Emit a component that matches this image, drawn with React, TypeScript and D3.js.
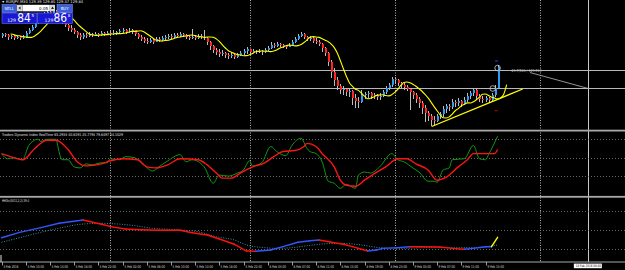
import React from "react";
import * as d3 from "d3";

// ---------------- DATA ----------------
const symbolText = "EURJPY,M30  129.39 129.85 129.37 129.84";
const tdiLabel = "Traders Dynamic Index RealTime 65.2933 40.6191 25.7794 79.6497 54.1029";
const hhLabel = "HHDiv(5011,2,2) 29.4";
const objectText = "29.7/503 / 129.514";
const vLineLabel = "10 Feb 2016 08:00";

const timeLabels = [
  "4 Feb 2016", "4 Feb 10:00", "4 Feb 14:00", "4 Feb 18:00", "4 Feb 22:00",
  "5 Feb 02:00", "5 Feb 06:00", "5 Feb 10:00", "5 Feb 14:00", "5 Feb 18:00",
  "5 Feb 22:00", "8 Feb 03:00", "8 Feb 07:00", "8 Feb 11:00", "8 Feb 15:00",
  "8 Feb 19:00", "8 Feb 23:00", "9 Feb 03:00", "9 Feb 07:00", "9 Feb 11:00",
  "9 Feb 15:00",
];
const labelStep = 8;

const firstOpen = 130.43;
const closes = [
  130.47, 130.45, 130.41, 130.43, 130.39, 130.41, 130.39, 130.41, 130.49, 130.55,
  130.61, 130.69, 130.75, 130.81, 130.85, 130.91, 130.89, 130.93, 130.87, 130.81,
  130.71, 130.65, 130.59, 130.55, 130.51, 130.45, 130.41, 130.45, 130.43, 130.47,
  130.45, 130.47, 130.45, 130.49, 130.47, 130.49, 130.47, 130.49, 130.51, 130.53,
  130.55, 130.51, 130.53, 130.55, 130.47, 130.41, 130.37, 130.33, 130.31, 130.35,
  130.31, 130.37, 130.35, 130.39, 130.41, 130.43, 130.41, 130.45, 130.43, 130.47,
  130.45, 130.41, 130.39, 130.41, 130.39, 130.43, 130.41, 130.39, 130.31, 130.23,
  130.15, 130.11, 130.07, 130.09, 130.05, 130.03, 130.05, 130.01, 130.05, 130.09,
  130.13, 130.17, 130.11, 130.13, 130.11, 130.13, 130.11, 130.15, 130.19, 130.25,
  130.23, 130.27, 130.25, 130.23, 130.21, 130.25, 130.31, 130.37, 130.43, 130.47,
  130.41, 130.37, 130.39, 130.33, 130.31, 130.27, 130.19, 130.09, 129.91, 129.71,
  129.55, 129.43, 129.35, 129.37, 129.31, 129.33, 129.19, 129.13, 129.11, 129.25,
  129.27, 129.29, 129.23, 129.25, 129.21, 129.23, 129.31, 129.39, 129.45, 129.57,
  129.55, 129.49, 129.45, 129.41, 129.37, 129.31, 129.25, 129.17, 129.09, 128.99,
  128.89, 128.83, 128.75, 128.73, 128.83, 128.87, 128.97, 129.03, 129.01, 129.11,
  129.09, 129.13, 129.07, 129.15, 129.23, 129.29, 129.35, 129.23, 129.17, 129.15,
  129.19, 129.15, 129.25, 129.39, 129.81,
];
const highs = [
  130.49, 130.49, 130.47, 130.45, 130.45, 130.43, 130.43, 130.45, 130.53, 130.59,
  130.65, 130.73, 130.79, 130.85, 130.91, 130.95, 130.95, 130.97, 130.95, 130.89,
  130.83, 130.73, 130.67, 130.65, 130.59, 130.53, 130.49, 130.49, 130.49, 130.51,
  130.49, 130.51, 130.49, 130.53, 130.51, 130.53, 130.53, 130.55, 130.53, 130.57,
  130.59, 130.57, 130.59, 130.57, 130.55, 130.49, 130.45, 130.41, 130.39, 130.39,
  130.37, 130.41, 130.41, 130.43, 130.45, 130.47, 130.47, 130.49, 130.49, 130.51,
  130.49, 130.47, 130.45, 130.57, 130.45, 130.47, 130.47, 130.55, 130.41, 130.33,
  130.25, 130.19, 130.17, 130.15, 130.11, 130.09, 130.11, 130.07, 130.09, 130.13,
  130.17, 130.21, 130.17, 130.17, 130.15, 130.17, 130.15, 130.19, 130.23, 130.31,
  130.29, 130.31, 130.29, 130.27, 130.25, 130.29, 130.35, 130.41, 130.47, 130.51,
  130.49, 130.43, 130.43, 130.41, 130.39, 130.35, 130.29, 130.21, 130.11, 129.95,
  129.79, 129.61, 129.47, 129.43, 129.39, 129.39, 129.35, 129.27, 129.21, 129.35,
  129.31, 129.33, 129.31, 129.29, 129.27, 129.29, 129.35, 129.43, 129.49, 129.61,
  129.61, 129.57, 129.51, 129.49, 129.45, 129.39, 129.33, 129.29, 129.21, 129.13,
  129.05, 128.93, 128.87, 128.83, 128.87, 128.91, 129.03, 129.07, 129.07, 129.17,
  129.15, 129.19, 129.15, 129.21, 129.29, 129.33, 129.39, 129.37, 129.27, 129.23,
  129.23, 129.21, 129.29, 129.45, 129.85,
];
const lows = [
  130.39, 130.41, 130.35, 130.37, 130.35, 130.37, 130.35, 130.37, 130.39, 130.47,
  130.53, 130.59, 130.67, 130.73, 130.79, 130.83, 130.83, 130.87, 130.83, 130.77,
  130.67, 130.61, 130.53, 130.51, 130.47, 130.39, 130.35, 130.37, 130.39, 130.41,
  130.41, 130.43, 130.41, 130.43, 130.43, 130.45, 130.43, 130.45, 130.45, 130.47,
  130.49, 130.47, 130.49, 130.47, 130.43, 130.37, 130.33, 130.29, 130.27, 130.29,
  130.27, 130.31, 130.31, 130.33, 130.35, 130.37, 130.37, 130.39, 130.39, 130.41,
  130.41, 130.37, 130.35, 130.37, 130.35, 130.37, 130.37, 130.35, 130.25, 130.15,
  130.09, 130.05, 130.01, 130.03, 129.99, 129.97, 129.99, 129.97, 129.99, 130.03,
  130.05, 130.07, 130.07, 130.09, 130.07, 130.09, 130.05, 130.09, 130.13, 130.17,
  130.19, 130.21, 130.21, 130.19, 130.17, 130.21, 130.23, 130.29, 130.35, 130.41,
  130.37, 130.33, 130.33, 130.29, 130.27, 130.23, 130.11, 130.03, 129.83, 129.59,
  129.43, 129.35, 129.27, 129.25, 129.23, 129.21, 129.05, 128.99, 128.99, 129.09,
  129.17, 129.19, 129.17, 129.17, 129.15, 129.15, 129.21, 129.27, 129.35, 129.41,
  129.47, 129.43, 129.39, 129.35, 129.33, 128.95, 129.17, 129.09, 128.99, 128.87,
  128.71, 128.73, 128.63, 128.65, 128.71, 128.77, 128.81, 128.89, 128.93, 128.97,
  129.01, 129.03, 129.01, 129.05, 129.11, 129.17, 129.23, 129.17, 129.11, 129.09,
  129.11, 129.09, 129.13, 129.21, 129.37,
];
const maPeriod = 5;
const maShift = 3;

const tdiLevels = [68, 50, 32];
const tdiGreenIdx = [0, 2, 4, 7, 8, 9, 12, 13, 15, 18, 19, 20, 22, 24, 26, 28, 30, 33, 35, 36, 39, 41, 44, 47, 50, 52, 55, 59, 61, 63, 67, 70, 72, 75, 78, 80, 82, 83, 86, 89, 91, 94, 96, 99, 101, 102, 104, 106, 108, 110, 112, 114, 117, 118, 120, 122, 125, 129, 131, 133, 136, 138, 141, 143, 144, 146, 148, 149, 153, 156, 158, 160, 161, 164];
const tdiGreen = [54, 49, 50, 48, 54, 62, 68, 66, 68, 68, 56, 48, 48, 41, 40, 44, 43, 45, 45, 49, 48, 51, 50, 43, 37, 41, 47, 53, 46, 48, 41, 25, 33, 32, 35, 38, 47, 42, 45, 61, 56, 52, 62, 69, 59, 56, 54, 46, 27, 25, 20, 24, 20, 33, 36, 35, 41, 54, 48, 46, 40, 36, 27, 27, 26, 38, 40, 48, 49, 62, 49, 48, 53, 71];
const tdiRedIdx = [0, 3, 7, 11, 15, 18, 22, 25, 28, 33, 36, 40, 45, 48, 51, 55, 59, 65, 68, 71, 73, 76, 79, 83, 87, 90, 93, 97, 100, 101, 104, 106, 110, 112, 114, 117, 120, 123, 127, 131, 134, 137, 141, 144, 147, 151, 154, 156, 160, 163, 164];
const tdiRed = [54, 51, 48, 59, 67, 67, 58, 46, 42, 44, 47, 49, 48, 41, 40, 43, 49, 48, 43, 35, 30, 30, 35, 41, 45, 51, 56, 57, 61, 64, 61, 54, 41, 28, 23, 22, 28, 34, 41, 49, 49, 44, 38, 28, 31, 41, 48, 54, 54, 54, 58];

const hhLevels = [70, 50, 30];
const hhIdx = [0, 6, 13, 19, 27, 33, 37, 41, 46, 52, 59, 63, 68, 72, 77, 81, 84, 89, 93, 98, 102, 105, 109, 113, 116, 121, 124, 126, 131, 135, 138, 145, 149, 153, 156, 160, 162, 164];
const hhMain = [42, 47.6, 52.4, 57, 60.4, 56, 53, 51, 50.3, 49.8, 49.7, 47.2, 44.8, 40.7, 35.2, 28.2, 28, 29.3, 32.7, 37.3, 38.9, 39.6, 37.3, 35.2, 32.7, 28.2, 29.3, 31, 31.7, 32.7, 32.6, 32.4, 31, 30, 31, 32.7, 32.7, 42.4];
const hhSigIdx = [0, 6, 13, 19, 26, 33, 37, 44, 50, 58, 65, 71, 77, 81, 87, 91, 96, 101, 105, 112, 119, 125, 132, 141, 147, 154, 160, 164];
const hhSignal = [37.3, 42, 47.6, 51.8, 55.9, 56.9, 56.5, 54.5, 51.8, 50.3, 48.2, 43.1, 39.6, 34.5, 31.7, 31, 31.7, 33.7, 35.2, 36.2, 34.5, 31.7, 31, 31.7, 31.7, 31.7, 32.7, 34.5];
const hhCurrentFrom = 162;

const daySeparators = [36, 82, 130, 178];
const vLineIdx = 194;
const hLinePrices = [129.75, 129.39];
const yellowTrendIdx = [142.2, 172.3];
const yellowTrendPrice = [128.62, 129.37];
const grayTrendIdx = [174.7, 194];
const grayTrendPrice = [129.7, 129.38];
const circleIdx = [164, 162.4];
const circlePrice = [129.79, 129.38];
const bidMain = "84", bidBig = "129", bidPip = "5";
const askMain = "86", askBig = "129", askPip = "8";
const lotText = "0.05";

// ---------------- CHART ----------------
const FONT = "DejaVu Sans, Liberation Sans, sans-serif";

export default function App() {
  const W = 625, H = 270;
  const x = d3.scaleLinear().domain([0, 200]).range([1.5, 606.5]);
  const yM = d3.scaleLinear().domain([131.15, 128.55]).range([0, 130]);
  const yT = d3.scaleLinear().domain([50, 68]).range([157.7, 139.3]);
  const yH = d3.scaleLinear().domain([50, 70]).range([230, 210.7]);

  const opens = closes.map((c, i) => (i === 0 ? firstOpen : closes[i - 1]));
  const ma = closes.map((_, i) => {
    let s = 0, w = 0;
    for (let k = 0; k < maPeriod && i - k >= 0; k++) {
      const wt = maPeriod - k;
      s += closes[i - k] * wt;
      w += wt;
    }
    return s / w;
  });
  const maPath = d3
    .line<number>()
    .x((_, i) => x(i + maShift))
    .y((d) => yM(d))
    .curve(d3.curveMonotoneX)(ma) as string;

  const pairLine = (idx: number[], vals: number[], ys: (v: number) => number, curve: any) =>
    d3
      .line<number>()
      .x((_, i) => x(idx[i]))
      .y((d) => ys(d))
      .curve(curve)(vals) as string;

  const greenPath = pairLine(tdiGreenIdx, tdiGreen, yT, d3.curveMonotoneX);
  const redPath = pairLine(tdiRedIdx, tdiRed, yT, d3.curveMonotoneX);
  const sigPath = pairLine(hhSigIdx, hhSignal, yH, d3.curveMonotoneX);

  const hhSegs = hhMain.slice(1).map((v, k) => {
    const p = hhMain[k];
    const i0 = hhIdx[k], i1 = hhIdx[k + 1];
    const col = i0 >= hhCurrentFrom ? "#ffff00" : v >= p ? "#3357ff" : "#ff1010";
    return { x1: x(i0), y1: yH(p), x2: x(i1), y2: yH(v), col };
  });

  const sep = "#a9a9a9";

  return (
    <svg
      width={W}
      height={H}
      style={{ position: "absolute", left: 0, top: 0, display: "block", background: "#000" }}
    >
      <defs>
        <clipPath id="mainClip">
          <rect x={0} y={0} width={W} height={129.5} />
        </clipPath>
        <clipPath id="tdiClip">
          <rect x={0} y={132} width={W} height={64} />
        </clipPath>
        <clipPath id="hhClip">
          <rect x={0} y={198} width={W} height={63.5} />
        </clipPath>
      </defs>
      <rect x={0} y={0} width={W} height={H} fill="#000" />

      {/* day separators */}
      {daySeparators.map((d) => (
        <line key={"ds" + d} x1={Math.round(x(d)) + 0.5} x2={Math.round(x(d)) + 0.5} y1={0} y2={262}
          stroke="#b0b0b0" strokeWidth={1} strokeDasharray="1,1.5" />
      ))}
      {/* vertical line object */}
      <line x1={Math.round(x(vLineIdx)) + 0.5} x2={Math.round(x(vLineIdx)) + 0.5} y1={0} y2={262}
        stroke="#c8c8c8" strokeWidth={1} />

      {/* ---- main panel ---- */}
      <g clipPath="url(#mainClip)">
        {hLinePrices.map((p) => (
          <line key={"hl" + p} x1={0} x2={W} y1={Math.round(yM(p)) + 0.5} y2={Math.round(yM(p)) + 0.5}
            stroke="#b8b8b8" strokeWidth={1} />
        ))}
        {closes.map((c, i) => {
          const o = opens[i];
          const cx = Math.round(x(i));
          const bull = c > o;
          const top = Math.min(yM(o), yM(c));
          const bot = Math.max(yM(o), yM(c));
          const col = c === o ? "#c0c0c0" : bull ? "#2b9cf2" : "#ff2323";
          return (
            <g key={"c" + i}>
              <line x1={cx + 0.5} x2={cx + 0.5} y1={yM(highs[i])} y2={yM(lows[i])} stroke="#bcbcbc" strokeWidth={1} />
              <rect x={cx} y={top} width={2} height={Math.max(1, bot - top)} fill={col} />
            </g>
          );
        })}
        <path d={maPath} fill="none" stroke="#ffff00" strokeWidth={1.1} />
        <line x1={x(yellowTrendIdx[0])} y1={yM(yellowTrendPrice[0])} x2={x(yellowTrendIdx[1])} y2={yM(yellowTrendPrice[1])}
          stroke="#ffff00" strokeWidth={1.3} />
        <line x1={x(grayTrendIdx[0])} y1={yM(grayTrendPrice[0])} x2={x(grayTrendIdx[1])} y2={yM(grayTrendPrice[1])}
          stroke="#b8b8b8" strokeWidth={0.8} />
        {circleIdx.map((ci, k) => (
          <circle key={"ci" + k} cx={x(ci)} cy={yM(circlePrice[k])} r={2.8} fill="none" stroke="#c8c8c8" strokeWidth={0.8} />
        ))}
        <rect x={x(164) - 2.5} y={60.5} width={3} height={1} fill="#2a3cff" />
        <rect x={x(164) - 3} y={110.2} width={3} height={1} fill="#c00000" />
        <text x={x(168.6)} y={71.6} fontSize={4} fill="#c0c0c0" fontFamily={FONT} textLength={30} lengthAdjust="spacingAndGlyphs">
          {objectText}
        </text>
      </g>

      {/* one-click trading panel */}
      <g fontFamily={FONT}>
        <rect x={2} y={4.5} width={14.5} height={8} fill="#3b5ed8" stroke="#7f98f2" strokeWidth={0.5} />
        <text x={9.3} y={10.2} fontSize={4} fill="#fff" textAnchor="middle">SELL</text>
        <rect x={17} y={4.8} width={5} height={6.5} fill="#d8d8d8" />
        <path d="M18.5,8 L20.5,6.6 L20.5,9.4 Z" fill="#222" />
        <rect x={22.3} y={4.8} width={27.5} height={6.5} fill="#ffffff" />
        <text x={48} y={9.6} fontSize={4} fill="#000" textAnchor="end">{lotText}</text>
        <rect x={50} y={4.8} width={5} height={6.5} fill="#d8d8d8" />
        <path d="M52.5,6.6 L54,9 L51,9 Z" fill="#222" />
        <rect x={57} y={4.5} width={15.5} height={8} fill="#3b5ed8" stroke="#7f98f2" strokeWidth={0.5} />
        <text x={64.7} y={10.2} fontSize={4} fill="#fff" textAnchor="middle">BUY</text>

        <rect x={2} y={13} width={35} height={10.5} fill="#1717d4" stroke="#6f86ff" strokeWidth={0.5} />
        <text x={7.2} y={22} fontSize={4.6} fill="#fff">{bidBig}</text>
        <text x={17.2} y={22.4} fontSize={11.5} fill="#fff" textLength={13.6} lengthAdjust="spacingAndGlyphs">{bidMain}</text>
        <text x={31.6} y={17} fontSize={4} fill="#fff">{bidPip}</text>

        <rect x={37.7} y={13} width={35} height={10.5} fill="#1717d4" stroke="#6f86ff" strokeWidth={0.5} />
        <text x={44.6} y={22} fontSize={4.6} fill="#fff">{askBig}</text>
        <text x={53.5} y={22.4} fontSize={11.5} fill="#fff" textLength={13.6} lengthAdjust="spacingAndGlyphs">{askMain}</text>
        <text x={67.8} y={17} fontSize={4} fill="#fff">{askPip}</text>
      </g>
      <path d="M2,1 L4.5,1 L3.25,3 Z" fill="#e0e0e0" />
      <text x={6} y={3.4} fontSize={3.8} fill="#e6e6e6" fontFamily={FONT} textLength={77} lengthAdjust="spacingAndGlyphs">
        {symbolText}
      </text>

      {/* separators */}
      <rect x={0} y={129.7} width={W} height={1.8} fill={sep} />
      <rect x={0} y={195.9} width={W} height={1.8} fill={sep} />

      {/* ---- TDI panel ---- */}
      {tdiLevels.map((lv) => (
        <line key={"tl" + lv} x1={0} x2={W} y1={Math.round(yT(lv)) + 0.5} y2={Math.round(yT(lv)) + 0.5}
          stroke="#808080" strokeWidth={0.8} strokeDasharray="1,2" />
      ))}
      <g clipPath="url(#tdiClip)">
        <path d={greenPath} fill="none" stroke="#109a10" strokeWidth={1} />
        <path d={redPath} fill="none" stroke="#ff1414" strokeWidth={1.4} />
      </g>
      <text x={2} y={135.6} fontSize={3.8} fill="#e0e0e0" fontFamily={FONT} textLength={121} lengthAdjust="spacingAndGlyphs">
        {tdiLabel}
      </text>

      {/* ---- HHDiv panel ---- */}
      {hhLevels.map((lv) => (
        <line key={"hl" + lv} x1={0} x2={W} y1={Math.round(yH(lv)) + 0.5} y2={Math.round(yH(lv)) + 0.5}
          stroke="#808080" strokeWidth={0.8} strokeDasharray="1,2" />
      ))}
      <g clipPath="url(#hhClip)">
        <path d={sigPath} fill="none" stroke="#3d8f9c" strokeWidth={1} strokeDasharray="1,1.5" />
        {hhSegs.map((s, k) => (
          <line key={"hs" + k} x1={s.x1} y1={s.y1} x2={s.x2} y2={s.y2} stroke={s.col} strokeWidth={1.4} strokeLinecap="round" />
        ))}
      </g>
      <text x={2} y={202.4} fontSize={3.8} fill="#e0e0e0" fontFamily={FONT} textLength={27} lengthAdjust="spacingAndGlyphs">
        {hhLabel}
      </text>

      {/* ---- time axis ---- */}
      <line x1={0} x2={W} y1={262} y2={262} stroke={sep} strokeWidth={1} />
      <line x1={1} x2={1} y1={255} y2={262} stroke="#e0e0e0" strokeWidth={1} />
      {timeLabels.map((t, k) => {
        const tx = Math.round(x(k * labelStep)) + 0.5;
        return (
          <g key={"tk" + k}>
            <line x1={tx} x2={tx} y1={262} y2={265.5} stroke="#c0c0c0" strokeWidth={0.8} />
            <text x={tx + 1} y={267.6} fontSize={3.8} fill="#d8d8d8" fontFamily={FONT}
              textLength={t.length > 10 ? 16.5 : 15} lengthAdjust="spacingAndGlyphs">
              {t}
            </text>
          </g>
        );
      })}
      <rect x={x(vLineIdx) - 14.5} y={263.6} width={28} height={4.6} fill="#ffffff" />
      <text x={x(vLineIdx)} y={267.3} fontSize={3.4} fill="#000" fontFamily={FONT} textAnchor="middle"
        textLength={25} lengthAdjust="spacingAndGlyphs">
        {vLineLabel}
      </text>
    </svg>
  );
}
